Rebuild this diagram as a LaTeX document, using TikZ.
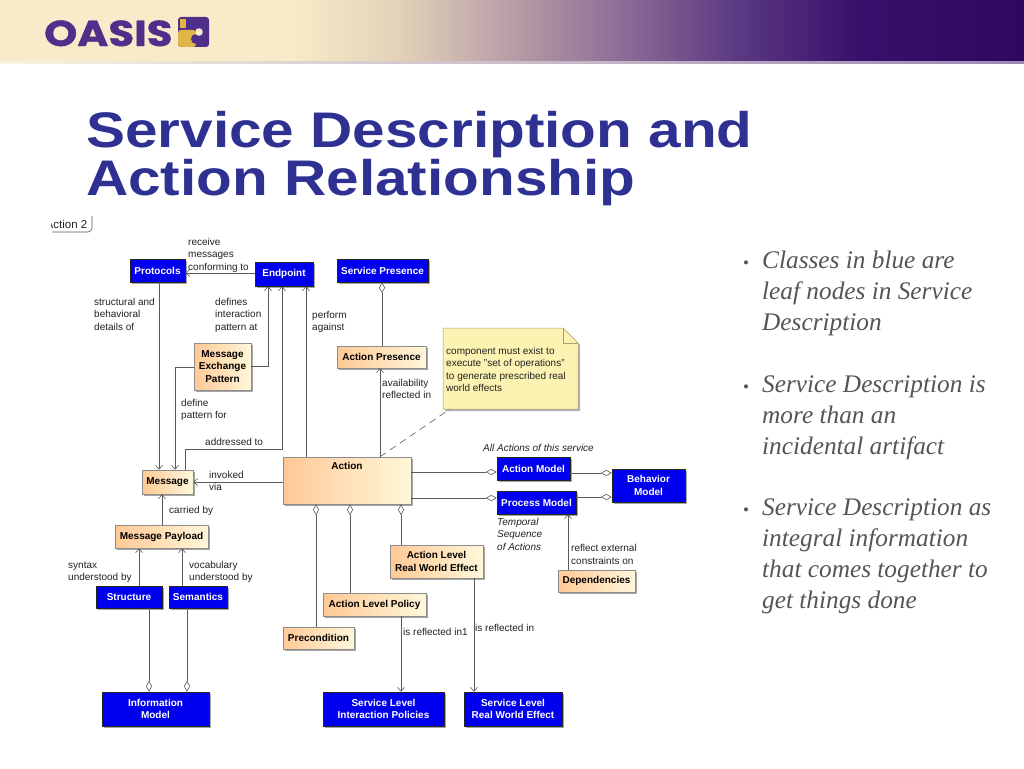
\documentclass[tikz,border=0pt]{standalone}
\usepackage{fontspec}
\setmainfont{Liberation Sans}
\newfontfamily\bulletserif{Liberation Serif}
\newfontfamily\logofont[BoldFeatures={FakeBold=1}]{Poppins}
\usetikzlibrary{arrows.meta,shadows,calc}
\definecolor{umlblue}{HTML}{0000EE}
\definecolor{orL}{HTML}{FFC995}
\definecolor{orR}{HTML}{FFF7DA}
\definecolor{notefill}{HTML}{FCF3B2}
\definecolor{noteline}{HTML}{A89C70}
\definecolor{titleblue}{HTML}{2E3192}
\definecolor{linegray}{HTML}{5A5A5A}
\definecolor{lblcol}{HTML}{222222}
\definecolor{bulcol}{HTML}{555555}
\definecolor{logopurple}{HTML}{4F2F8A}
\definecolor{logoyellow}{HTML}{E0B445}
\definecolor{hc0}{HTML}{F9EBC9}
\definecolor{hc1}{HTML}{E2D1B8}
\definecolor{hc2}{HTML}{BBA3A8}
\definecolor{hc3}{HTML}{8D6D96}
\definecolor{hc4}{HTML}{5A3882}
\definecolor{hc5}{HTML}{38106B}
\definecolor{hc6}{HTML}{2E0860}
\newcommand\bxfont{\fontsize{10}{12.3}\selectfont\bfseries}
\newcommand\lblfont{\fontsize{10}{12.4}\selectfont}
\newcommand\asc{\rule{0pt}{7.3pt}}
\newcommand\wide[1]{\scalebox{1.17}[1]{#1}}
\tikzset{
  shadowed/.style={drop shadow={shadow xshift=2pt,shadow yshift=-2pt,opacity=0.35,fill=black}},
  blueclass/.style={shadowed, draw=black!85, line width=0.5pt, fill=umlblue, text=white, font=\bxfont, align=center, inner sep=0pt},
  orangeclass/.style={shadowed, draw=black!45, line width=0.5pt, left color=orL, right color=orR, text=black, font=\bxfont, align=center, inner sep=0pt},
  lbl/.style={anchor=north west, inner sep=0pt, align=left, font=\lblfont, text=lblcol},
  ilbl/.style={lbl, font=\lblfont\itshape},
  conn/.style={draw=linegray, line width=0.6pt},
  nav/.style={conn, -{Straight Barb[length=4pt,width=7pt,line width=0.6pt]}},
  agg/.style={conn, -{Diamond[fill=white,length=11pt,width=6pt,line width=0.6pt]}},
  bul/.style={anchor=north west, inner sep=0pt, align=left, text=bulcol, font={\fontsize{25.3}{31}\bulletserif\itshape}},
  bdot/.style={anchor=base west, inner sep=0pt, text=bulcol, font={\fontsize{17}{17}\bulletserif}},
}
\begin{document}
\begin{tikzpicture}[x=1pt,y=-1pt]
\useasboundingbox (0,0) rectangle (1024,768);
\fill[white] (0,0) rectangle (1024,768);
% header band
\fill[hc0] (0,0) rectangle (290.5,62);
\shade[left color=hc0,right color=hc1] (290,0) rectangle (400.5,62);
\shade[left color=hc1,right color=hc2] (400,0) rectangle (500.5,62);
\shade[left color=hc2,right color=hc3] (500,0) rectangle (620.5,62);
\shade[left color=hc3,right color=hc4] (620,0) rectangle (740.5,62);
\shade[left color=hc4,right color=hc5] (740,0) rectangle (860.5,62);
\shade[left color=hc5,right color=hc6] (860,0) rectangle (1024,62);
\shade[left color=hc0!60!white,right color=hc4!60!white] (0,61.5) rectangle (1024,63.5);
% logo
\node[anchor=base west, inner sep=0pt, text=logopurple, font={\fontsize{36}{36}\logofont\bfseries}] (oasis) at (44,46) {\scalebox{1.17}[1]{OASIS}};
\fill[logopurple, rounded corners=3pt] (178,17) rectangle (209,47);
\fill[logoyellow, rounded corners=3pt] (178,30) -- (178,47) -- (196,47) -- (196,30) -- cycle;
\fill[logoyellow] (179.5,19) rectangle (185.5,28);
\fill[logopurple] (196,39) circle (5);
\fill[hc0] (199,32) circle (3.8);
% title
\node[anchor=north west, inner sep=0pt, align=left, text=titleblue, font={\fontsize{50}{48}\selectfont\bfseries\lineskiplimit=-100pt}] (title) at (86,111) {\wide{Service Description and}\\\wide{Action Relationship}};
% bullets
\node[bdot] (d1) at (743,268) {•};
\node[bul] (b1) at (762,251) {Classes in blue are\\leaf nodes in Service\\Description};
\node[bdot] (d2) at (743,392) {•};
\node[bul] (b2) at (762,375.5) {Service Description is\\more than an\\incidental artifact};
\node[bdot] (d3) at (743,515) {•};
\node[bul] (b3) at (762,498.5) {Service Description as\\integral information\\that comes together to\\get things done};
% cut-off fragment
\begin{scope}
\clip (51,218.5) rectangle (100,240);
\node[anchor=base east, inner sep=0pt, font={\fontsize{11.5}{12}\selectfont}, text=lblcol] (frag) at (87.5,228) {Action 2};
\end{scope}
\draw[conn, rounded corners=4pt] (52,232) -- (92,232) -- (92,216);
% classes
\node[blueclass, minimum width=55pt, minimum height=23pt] (protocols) at (157.5,270.5) {Protocols};
\node[blueclass, minimum width=58pt, minimum height=24pt] (endpoint) at (284,274) {Endpoint};
\node[blueclass, minimum width=91pt, minimum height=23pt] (spresence) at (382.5,270.5) {Service Presence};
\node[orangeclass, minimum width=57pt, minimum height=47pt] (mep) at (222.5,366.5) {Message\\Exchange\\Pattern};
\node[orangeclass, minimum width=89pt, minimum height=22pt] (apresence) at (381.5,357) {Action Presence};
\node[orangeclass, minimum width=51pt, minimum height=24pt] (message) at (167.5,482) {Message};
\node[orangeclass, minimum width=128pt, minimum height=47pt, label={[font=\bxfont, anchor=north, yshift=-5.5pt, inner sep=0pt]north:Action}] (action) at (347,480.5) {};
\node[blueclass, minimum width=73pt, minimum height=23pt] (amodel) at (533.5,468.5) {Action Model};
\node[blueclass, minimum width=79pt, minimum height=23pt] (pmodel) at (536.5,502.5) {Process Model};
\node[blueclass, minimum width=73pt, minimum height=33pt] (bmodel) at (648.5,485.5) {Behavior\\Model};
\node[orangeclass, minimum width=77pt, minimum height=22pt] (deps) at (596.5,581) {Dependencies};
\node[orangeclass, minimum width=93pt, minimum height=33pt] (alrwe) at (436.5,561.5) {Action Level\\Real World Effect};
\node[orangeclass, minimum width=93pt, minimum height=23pt] (payload) at (161.5,536.5) {Message Payload};
\node[blueclass, minimum width=66pt, minimum height=22pt] (structure) at (129,597) {Structure};
\node[blueclass, minimum width=58pt, minimum height=22pt] (semantics) at (198,597) {Semantics};
\node[orangeclass, minimum width=103pt, minimum height=23pt] (alpolicy) at (374.5,604.5) {Action Level Policy};
\node[orangeclass, minimum width=71pt, minimum height=22pt] (precond) at (318.5,638) {Precondition};
\node[blueclass, minimum width=107pt, minimum height=34pt] (infomodel) at (155.5,709) {Information\\Model};
\node[blueclass, minimum width=121pt, minimum height=34pt] (slip) at (383.5,709) {Service Level\\Interaction Policies};
\node[blueclass, minimum width=98pt, minimum height=34pt] (slrwe) at (513,709) {Service Level\\Real World Effect};
% note
\coordinate (nNW) at (443,328);
\coordinate (nSE) at (578,409);
\coordinate (notetip) at (450,409);
\filldraw[fill=notefill, draw=noteline, line width=0.5pt, drop shadow={shadow xshift=2pt,shadow yshift=-2pt,opacity=0.3,fill=black}] (nNW) -- (563,328) -- (578,343) -- (nSE) -- (443,409) -- cycle;
\draw[draw=noteline, line width=0.5pt] (563,328) -- (563,343) -- (578,343);
\node[lbl] (notetext) at (446,347) {\asc component must exist to\\execute "set of operations"\\to generate prescribed real\\world effects};
% connectors
\draw[nav] (endpoint.west |- 0,273) -- (protocols.east |- 0,273);
\draw[nav] (159,0 |- protocols.south) -- (159,0 |- message.north);
\draw[nav] (mep.east |- 0,366) -| (268,0 |- endpoint.south);
\draw[nav] (mep.west |- 0,367) -| (175,0 |- message.north);
\draw[nav] (185,0 |- message.north) |- (282,449) -- (282,0 |- endpoint.south);
\draw[nav] (306,0 |- action.north) -- (306,0 |- endpoint.south);
\draw[nav] (action.west |- 0,482) -- (message.east |- 0,482);
\draw[nav] (380,0 |- action.north) -- (380,0 |- apresence.south);
\draw[agg] (382,0 |- apresence.north) -- (382,0 |- spresence.south);
\draw[draw=linegray, line width=0.6pt, dash pattern=on 7pt off 5pt] (380,0 |- action.north) -- (notetip);
\draw[agg] (action.east |- 0,472) -- (amodel.west |- 0,472);
\draw[agg] (action.east |- 0,498) -- (pmodel.west |- 0,498);
\draw[agg] (amodel.east |- 0,473) -- (bmodel.west |- 0,473);
\draw[agg] (pmodel.east |- 0,497) -- (bmodel.west |- 0,497);
\draw[nav] (568,0 |- deps.north) -- (568,0 |- pmodel.south);
\draw[nav] (162,0 |- payload.north) -- (162,0 |- message.south);
\draw[nav] (139,0 |- structure.north) -- (139,0 |- payload.south);
\draw[nav] (182,0 |- semantics.north) -- (182,0 |- payload.south);
\draw[agg] (149,0 |- structure.south) -- (149,0 |- infomodel.north);
\draw[agg] (187,0 |- semantics.south) -- (187,0 |- infomodel.north);
\draw[agg] (316,0 |- precond.north) -- (316,0 |- action.south);
\draw[agg] (350,0 |- alpolicy.north) -- (350,0 |- action.south);
\draw[agg] (401,0 |- alrwe.north) -- (401,0 |- action.south);
\draw[nav] (401,0 |- alpolicy.south) -- (401,0 |- slip.north);
\draw[nav] (474,0 |- alrwe.south) -- (474,0 |- slrwe.north);
% connector labels
\node[lbl] (lrecv) at (188,237.7) {\asc receive\\messages\\conforming to};
\node[lbl] (lstruct) at (94,297.7) {\asc structural and\\behavioral\\details of};
\node[lbl] (ldefines) at (215,297.7) {\asc defines\\interaction\\pattern at};
\node[lbl] (lperform) at (312,310.7) {\asc perform\\against};
\node[lbl] (ldefine) at (181,398.7) {\asc define\\pattern for};
\node[lbl] (laddr) at (205,437.7) {\asc addressed to};
\node[lbl] (lavail) at (382,378.7) {\asc availability\\reflected in};
\node[lbl] (linvoked) at (209,470.7) {\asc invoked\\via};
\node[ilbl] (lall) at (483,444.4) {\asc All Actions of this service};
\node[ilbl] (ltemp) at (497,517.7) {\asc Temporal\\Sequence\\of Actions};
\node[lbl] (lreflect) at (571,544.4) {\asc reflect external\\constraints on};
\node[lbl] (lcarried) at (169,505.7) {\asc carried by};
\node[lbl] (lsyntax) at (68,560.7) {\asc syntax\\understood by};
\node[lbl] (lvocab) at (189,560.7) {\asc vocabulary\\understood by};
\node[lbl] (lrefl1) at (403,627.7) {\asc is reflected in1};
\node[lbl] (lrefl2) at (475,624.4) {\asc is reflected in};
\end{tikzpicture}
\end{document}
